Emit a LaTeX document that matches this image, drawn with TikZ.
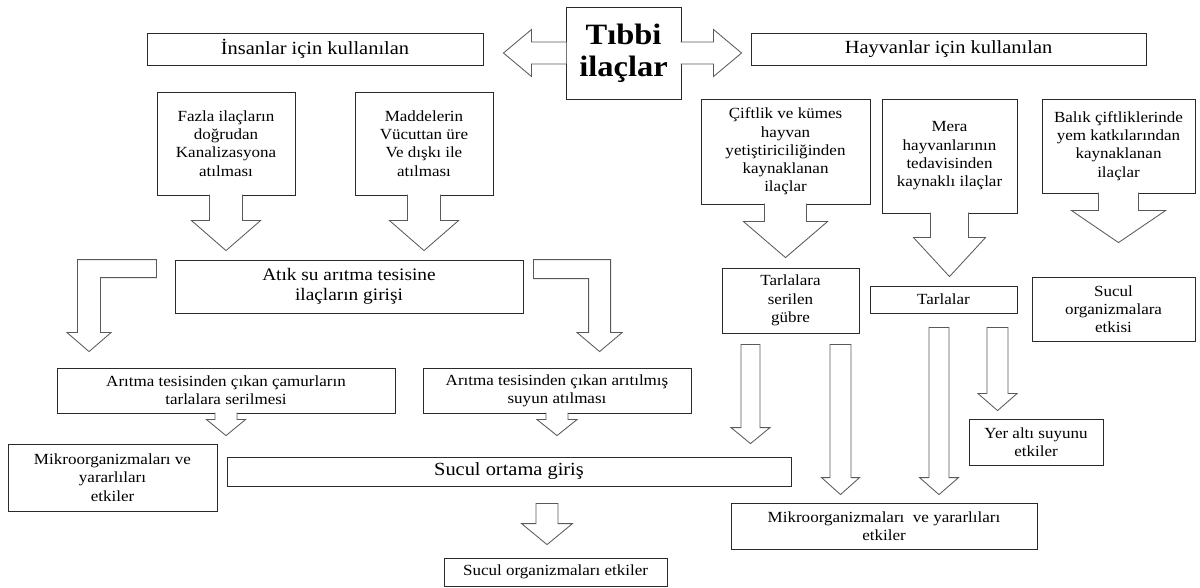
\documentclass[tikz,border=0pt]{standalone}
\usepackage{fontspec}
\setmainfont{Liberation Serif}[FakeStretch=1.1]
\usepackage{tikz}
\usetikzlibrary{calc}
\usepackage{xcolor}

\definecolor{boxline}{HTML}{2B2B2B}
\definecolor{fatline}{HTML}{5A5A5A}

\begin{document}
\begin{tikzpicture}[
    x=0.025cm, y=-0.025cm,
    box/.style = {rectangle, draw=boxline, line width=0.6pt, fill=white, align=center, inner sep=1pt, font=\fontsize{11}{13}\selectfont},
    bigbox/.style = {box, font=\fontsize{12.5}{14.5}\selectfont},
    headbox/.style = {box, font=\fontsize{13.2}{15}\selectfont},
    % block arrow parameters
    fat w/.store in=\fatw, fat wy/.store in=\fatwy, fat h/.store in=\fath,
    fat hl/.store in=\fathl, fat gs/.store in=\fatgs, fat ge/.store in=\fatge,
    fat w=0.275cm, fat wy=0.24cm, fat h=0.5cm, fat hl=0.4cm, fat gs=0cm, fat ge=0.2cm,
    fatbase/.style = {draw=fatline, fill=white, line width=0.6pt, line join=miter},
    % arrow that leaves the bottom of a box (open at the box)
    fatdown/.style = {fatbase, to path={let \p1=(\tikztostart), \p2=(\tikztotarget) in
        ({\x1-\fatw}, {\y1+0.5pt}) -- ({\x1-\fatw}, {\y2+\fatge+\fathl}) -- ({\x1-\fath}, {\y2+\fatge+\fathl})
        -- ({\x1}, {\y2+\fatge}) -- ({\x1+\fath}, {\y2+\fatge+\fathl}) -- ({\x1+\fatw}, {\y2+\fatge+\fathl})
        -- ({\x1+\fatw}, {\y1+0.5pt})}},
    % free standing down arrow
    fatfree/.style = {fatbase, to path={let \p1=(\tikztostart), \p2=(\tikztotarget) in
        ({\x1-\fatw}, {\y1-\fatgs}) -- ({\x1-\fatw}, {\y2+\fatge+\fathl}) -- ({\x1-\fath}, {\y2+\fatge+\fathl})
        -- ({\x1}, {\y2+\fatge}) -- ({\x1+\fath}, {\y2+\fatge+\fathl}) -- ({\x1+\fatw}, {\y2+\fatge+\fathl})
        -- ({\x1+\fatw}, {\y1-\fatgs}) -- cycle}},
    % sideways arrow that leaves a box (open at the box)
    fatside/.style = {fatbase, to path={let \p1=(\tikztostart), \p2=(\tikztotarget), \n1={ifthenelse(\x2>\x1,1,-1)} in
        ({\x1-(\n1)*0.5pt}, {\y1+\fatw}) -- ({\x2-(\n1)*(\fatge+\fathl)}, {\y1+\fatw}) -- ({\x2-(\n1)*(\fatge+\fathl)}, {\y1+\fath})
        -- ({\x2-(\n1)*\fatge}, {\y1}) -- ({\x2-(\n1)*(\fatge+\fathl)}, {\y1-\fath}) -- ({\x2-(\n1)*(\fatge+\fathl)}, {\y1-\fatw})
        -- ({\x1-(\n1)*0.5pt}, {\y1-\fatw})}},
    % bent arrow: sideways first, then down
    fatbend/.style = {fatbase, to path={let \p1=(\tikztostart), \p2=(\tikztotarget), \n1={ifthenelse(\x2>\x1,1,-1)} in
        ({\x1+(\n1)*\fatgs}, {\y1+\fatwy}) -- ({\x2+(\n1)*\fatw}, {\y1+\fatwy}) -- ({\x2+(\n1)*\fatw}, {\y2+\fatge+\fathl})
        -- ({\x2+(\n1)*\fath}, {\y2+\fatge+\fathl}) -- ({\x2}, {\y2+\fatge}) -- ({\x2-(\n1)*\fath}, {\y2+\fatge+\fathl})
        -- ({\x2-(\n1)*\fatw}, {\y2+\fatge+\fathl}) -- ({\x2-(\n1)*\fatw}, {\y1-\fatwy}) -- ({\x1+(\n1)*\fatgs}, {\y1-\fatwy}) -- cycle}}
]
\useasboundingbox (0,0) rectangle (1200,587);

% Top row
\node (insan) [headbox, minimum width=8.4cm, minimum height=0.8cm, at={(315,49)}] {İnsanlar için kullanılan};
\node (tibbi) [box, minimum width=2.875cm, minimum height=2.3cm, at={(623.5,53)}, font=\fontsize{21}{23}\selectfont\bfseries] {Tıbbi\\ilaçlar};
\node (hayvan) [headbox, minimum width=9.875cm, minimum height=0.8cm, at={(948.5,49)}] {Hayvanlar için kullanılan};

% Sources for humans
\node (fazla) [box, minimum width=3.45cm, minimum height=2.575cm, at={(226,143.5)}] {Fazla ilaçların\\doğrudan\\Kanalizasyona\\atılması};
\node (madde) [box, minimum width=3.45cm, minimum height=2.575cm, at={(424,143.5)}] {Maddelerin\\Vücuttan üre\\Ve dışkı ile\\atılması};

% Sources for animals
\node (ciftlik) [box, minimum width=4.225cm, minimum height=2.625cm, at={(785.5,151.5)}] {Çiftlik ve kümes\\hayvan\\yetiştiriciliğinden\\kaynaklanan\\ilaçlar};
\node (mera) [box, minimum width=3.375cm, minimum height=2.85cm, at={(949.5,156)}] {Mera\\hayvanlarının\\tedavisinden\\kaynaklı ilaçlar};
\node (balik) [box, minimum width=3.825cm, minimum height=2.35cm, at={(1118.5,146)}] {Balık çiftliklerinde\\yem katkılarından\\kaynaklanan\\ilaçlar};

% Middle row
\node (atik) [bigbox, minimum width=8.7cm, minimum height=1.325cm, at={(349,286.5)}] {Atık su arıtma tesisine\\ilaçların girişi};
\node (gubre) [box, minimum width=3.425cm, minimum height=1.625cm, at={(790.5,300.5)}] {Tarlalara\\serilen\\gübre};
\node (tarla) [box, minimum width=3.675cm, minimum height=0.675cm, at={(943.5,299.5)}] {Tarlalar};
\node (sucetk) [box, minimum width=4.075cm, minimum height=1.6cm, at={(1113.5,309)}] {Sucul\\organizmalara\\etkisi};

% Treatment plant outputs
\node (camur) [box, minimum width=8.45cm, minimum height=1.125cm, at={(226,390.5)}] {Arıtma tesisinden çıkan çamurların\\tarlalara serilmesi};
\node (aritil) [box, minimum width=6.7cm, minimum height=1.125cm, at={(557,390.5)}] {Arıtma tesisinden çıkan arıtılmış\\suyun atılması};

% Effects
\node (mikroL) [box, minimum width=5.225cm, minimum height=1.675cm, at={(112.5,477.5)}] {Mikroorganizmaları ve\\yararlıları\\etkiler};
\node (sucul) [headbox, minimum width=14.1cm, minimum height=0.725cm, at={(509,471.5)}] {Sucul ortama giriş};
\node (sucorg) [box, minimum width=5.575cm, minimum height=0.7cm, at={(555.5,572)}] {Sucul organizmaları etkiler};
\node (yeralti) [box, minimum width=3.35cm, minimum height=1.15cm, at={(1036,442)}] {Yer altı suyunu\\etkiler};
\node (mikroR) [box, minimum width=7.65cm, minimum height=1.15cm, at={(884,526)}] {Mikroorganizmaları \ ve yararlıları\\etkiler};

% Central double arrow
\draw [fatside, fat w=0.275cm, fat h=0.5875cm, fat hl=0.7cm, fat ge=0.5cm] (tibbi.west) to (insan.east);
\draw [fatside, fat w=0.275cm, fat h=0.5875cm, fat hl=0.7cm, fat ge=0.225cm] (tibbi.east) to (hayvan.west);

% Callout arrows
\draw [fatdown, fat w=0.4125cm, fat h=0.8625cm, fat hl=0.75cm, fat ge=0.225cm] (fazla.south) to (atik.north);
\draw [fatdown, fat w=0.4125cm, fat h=0.8625cm, fat hl=0.75cm, fat ge=0.225cm] (madde.south) to (atik.north);
\draw [fatdown, fat w=0.525cm, fat h=1.05cm, fat hl=0.9cm, fat ge=0.25cm] (ciftlik.south) to (gubre.north);
\draw [fatdown, fat w=0.475cm, fat h=0.9cm, fat hl=0.975cm, fat ge=0.225cm] (mera.south) to (tarla.north);
\draw [fatdown, fat w=0.5cm, fat h=1.175cm, fat hl=0.8cm, fat ge=0.85cm] (balik.south) to (sucetk.north);
\draw [fatdown, fat w=0.275cm, fat h=0.4875cm, fat hl=0.4cm, fat ge=0.2cm] (camur.south) to (mikroL.north);
\draw [fatdown, fat w=0.275cm, fat h=0.5cm, fat hl=0.4cm, fat ge=0.525cm] (aritil.south) to (sucul.north);

% Bent arrows out of the treatment plant
\draw [fatbend, fat gs=0.45cm, fat w=0.2875cm, fat wy=0.225cm, fat h=0.55cm, fat hl=0.475cm, fat ge=0.4cm] ([yshift=-0.225cm]atik.north west) to ([xshift=0.8125cm]camur.north west);
\draw [fatbend, fat gs=0.25cm, fat w=0.275cm, fat wy=0.2375cm, fat h=0.5625cm, fat hl=0.475cm, fat ge=0.4cm] ([yshift=-0.2375cm]atik.north east) to ([xshift=4.425cm]aritil.north west);

% Free arrows
\draw [fatfree, fat gs=0.425cm, fat w=0.275cm, fat h=0.6375cm, fat hl=0.525cm, fat ge=0.325cm] ([xshift=0.95cm]sucul.south) to (sucorg.north);
\draw [fatfree, fat gs=0.275cm, fat w=0.2375cm, fat h=0.4875cm, fat hl=0.4cm, fat ge=0.325cm] ([xshift=-1cm]gubre.south) to (sucul.north);
\draw [fatfree, fat gs=0.275cm, fat w=0.2625cm, fat h=0.475cm, fat hl=0.425cm, fat ge=0.2cm] ([xshift=1.25cm]gubre.south) to (mikroR.north);
\draw [fatfree, fat gs=0.35cm, fat w=0.25cm, fat h=0.4875cm, fat hl=0.425cm, fat ge=0.2cm] ([xshift=-0.1125cm]tarla.south) to (mikroR.north);
\draw [fatfree, fat gs=0.35cm, fat w=0.2625cm, fat h=0.4875cm, fat hl=0.425cm, fat ge=0.2cm] ([xshift=1.35cm]tarla.south) to (yeralti.north);

\end{tikzpicture}
\end{document}
